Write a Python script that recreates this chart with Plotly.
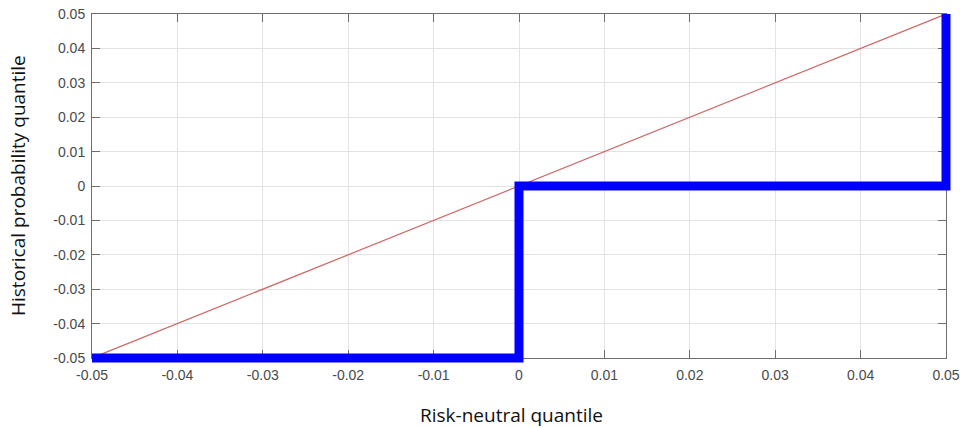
import plotly.graph_objects as go

# Data
diag_x = [-0.05, 0.05]
diag_y = [-0.05, 0.05]
step_x = [-0.05, 0.0, 0.0, 0.05, 0.05]
step_y = [-0.05, -0.05, 0.0, 0.0, 0.05]
tick_vals = [-0.05, -0.04, -0.03, -0.02, -0.01, 0, 0.01, 0.02, 0.03, 0.04, 0.05]
tick_text = ["-0.05", "-0.04", "-0.03", "-0.02", "-0.01", "0", "0.01", "0.02", "0.03", "0.04", "0.05"]
x_title = "Risk-neutral quantile"
y_title = "Historical probability quantile"

W, H = 960, 428
ml, mr, mt, mb = 86, 8, 8, 64
pad = 6
inner_w = W - ml - mr
inner_h = H - mt - mb
ax = pad / inner_w
ay = pad / inner_h
lo, hi = -0.05, 0.05
span = hi - lo
ext_x = span * ax / (1 - 2 * ax)
ext_y = span * ay / (1 - 2 * ay)

fig = go.Figure()
fig.add_trace(go.Scatter(x=diag_x, y=diag_y, mode="lines",
                         line=dict(color="#d06462", width=1.2),
                         xaxis="x", yaxis="y", showlegend=False, hoverinfo="skip"))
fig.add_trace(go.Scatter(x=step_x, y=step_y, mode="lines",
                         line=dict(color="#0000ff", width=9),
                         xaxis="x2", yaxis="y2", showlegend=False, hoverinfo="skip"))

axis_common = dict(
    range=[lo, hi], tickmode="array", tickvals=tick_vals, ticktext=tick_text,
    showgrid=True, gridcolor="#e3e3e3", gridwidth=1, zeroline=False,
    showline=True, linecolor="#6e6e6e", linewidth=1, mirror="allticks",
    ticks="inside", ticklen=8, tickcolor="#6e6e6e", tickwidth=1, automargin=False,
    tickfont=dict(family="Liberation Sans, Arial, sans-serif", size=14, color="#4a4a4a"),
)

title_font = dict(family="Open Sans, Noto Sans, sans-serif", size=19, color="#111111")

fig.update_layout(
    template="none",
    width=W, height=H,
    margin=dict(l=ml, r=mr, t=mt, b=mb),
    paper_bgcolor="white", plot_bgcolor="rgba(0,0,0,0)",
    xaxis=dict(domain=[ax, 1 - ax], anchor="y", ticklabelstandoff=4, **axis_common),
    yaxis=dict(domain=[ay, 1 - ay], anchor="x", ticklabelstandoff=3, **axis_common),
    xaxis2=dict(domain=[0, 1], anchor="y2", range=[lo - ext_x, hi + ext_x], visible=False),
    yaxis2=dict(domain=[0, 1], anchor="x2", range=[lo - ext_y, hi + ext_y], visible=False),
    annotations=[
        dict(text=x_title, xref="paper", yref="paper", x=0.5, y=0,
             xanchor="center", yanchor="middle", xshift=-8, yshift=-51,
             showarrow=False, font=title_font),
        dict(text=y_title, xref="paper", yref="paper", x=0, y=0.5, textangle=-90,
             xanchor="center", yanchor="middle", xshift=-68, showarrow=False, font=title_font),
    ],
)

fig.write_html("out.html",
               config={"displayModeBar": False, "staticPlot": True},
               post_script="document.body.style.margin='0px';document.body.style.overflow='hidden';")
